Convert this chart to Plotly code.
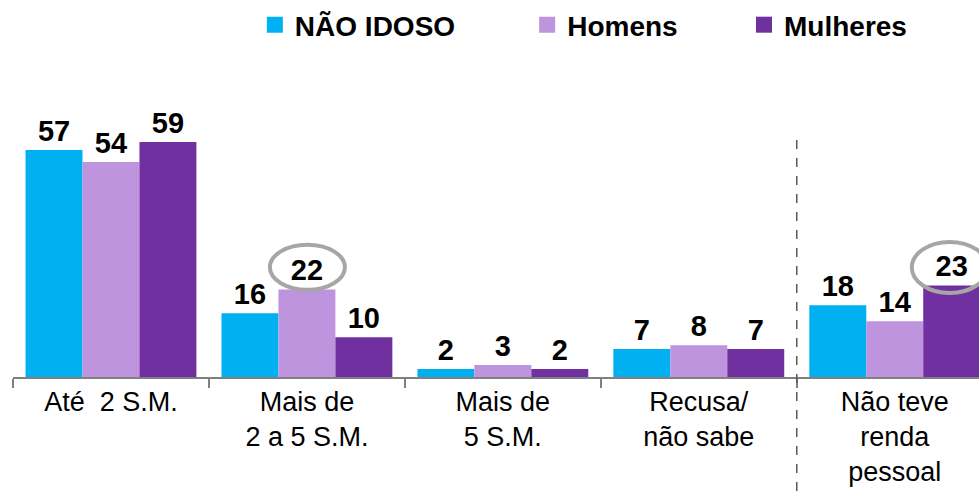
import plotly.graph_objects as go

categories = ["Até  2 S.M.", "Mais de<br>2 a 5 S.M.", "Mais de<br>5 S.M.", "Recusa/<br>não sabe", "Não teve<br>renda<br>pessoal"]
nao_idoso = [57, 16, 2, 7, 18]
homens = [54, 22, 3, 8, 14]
mulheres = [59, 10, 2, 7, 23]

series = [
    ("NÃO IDOSO", nao_idoso, "#00B0F0"),
    ("Homens", homens, "#BF94DE"),
    ("Mulheres", mulheres, "#7030A0"),
]

FONT = "Liberation Sans, Arial, sans-serif"

fig = go.Figure()
for name, values, color in series:
    fig.add_trace(
        go.Bar(
            x=categories,
            y=values,
            name=name,
            marker=dict(color=color, line=dict(width=0)),
            text=values,
            textposition="outside",
            textfont=dict(family=FONT, size=29, color="#000000", weight="bold"),
            cliponaxis=False,
            showlegend=False,
        )
    )

# legend-only entries, one legend each so they can be spaced like the original
legend_ids = ["legend", "legend2", "legend3"]
legend_x = [0.357, 0.613, 0.8437]
for (name, values, color), lid in zip(series, legend_ids):
    fig.add_trace(
        go.Scatter(
            x=[None],
            y=[None],
            mode="markers",
            name=name,
            legend=lid,
            marker=dict(symbol="square", size=18, color=color),
        )
    )

legend_style = dict(
    orientation="h",
    xanchor="center",
    yanchor="top",
    yref="container",
    y=1.0,
    font=dict(family=FONT, size=28, color="#000000", weight="bold"),
    itemsizing="trace",
    itemwidth=30,
    bgcolor="rgba(0,0,0,0)",
)

fig.update_layout(
    width=979,
    height=491,
    barmode="group",
    bargap=0.128,
    bargroupgap=0,
    margin=dict(l=13, r=0, t=60, b=114, autoexpand=False),
    paper_bgcolor="#ffffff",
    plot_bgcolor="#ffffff",
    font=dict(family=FONT, color="#000000"),
    legend=dict(x=legend_x[0], **legend_style),
    legend2=dict(x=legend_x[1], **legend_style),
    legend3=dict(x=legend_x[2], **legend_style),
    shapes=[
        dict(
            type="line", xref="x", yref="paper",
            x0=3.5, x1=3.5, y0=-0.36, y1=0.755,
            line=dict(color="#595959", width=1.5, dash="dash"),
        ),
        dict(
            type="circle", xref="x", yref="y",
            x0=0.811, x1=1.194, y0=21.9, y1=33.2,
            line=dict(color="#A6A6A6", width=4),
        ),
        dict(
            type="circle", xref="x", yref="y",
            x0=4.087, x1=4.474, y0=21.1, y1=33.9,
            line=dict(color="#A6A6A6", width=4),
        ),
    ],
)
fig.update_xaxes(
    type="category",
    range=[-0.5, 4.43],
    showline=True,
    linecolor="#808080",
    linewidth=1.5,
    ticks="outside",
    tickson="boundaries",
    ticklen=9,
    tickcolor="#808080",
    tickwidth=1.5,
    tickfont=dict(family=FONT, size=27, color="#000000"),
    showgrid=False,
)
fig.update_yaxes(range=[0, 79.6], visible=False, showgrid=False)

# drop the default page margin so the figure fills the window exactly
fig.write_html(
    "out.html",
    config={"displayModeBar": False},
    post_script="document.body.style.margin='0';document.body.style.overflow='hidden';",
)
